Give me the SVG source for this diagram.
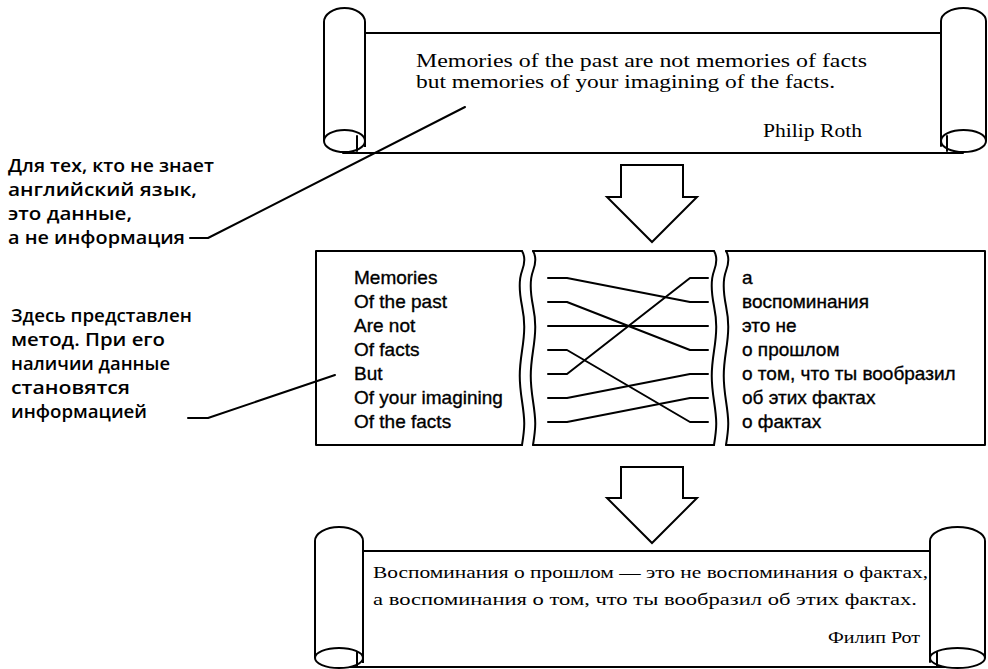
<svg xmlns="http://www.w3.org/2000/svg" width="988" height="669" viewBox="0 0 988 669">
<style>
.ln{fill:none;stroke:#000;stroke-width:2;stroke-linecap:round;stroke-linejoin:round}
.wf{fill:#fff;stroke:#000;stroke-width:2}
.deco{font-family:"Liberation Serif","DejaVu Serif",serif;fill:#000}
.sans{font-family:"Liberation Sans",Arial,sans-serif;font-size:19px;fill:#000;stroke:#000;stroke-width:0.35}
.note{font-family:"Open Sans","Noto Sans",sans-serif;font-size:18.5px;font-weight:600;fill:#000}
</style>
<rect width="988" height="669" fill="#fff"/>

<g id="scroll-top">
  <path class="ln" d="M365,33 H941"/>
  <path class="ln" d="M343,153 H963"/>
  <path class="wf" d="M324,141 V22 A20.5,14 0 0 1 365,22 V147"/>
  <ellipse class="wf" cx="344.5" cy="141" rx="20.5" ry="11"/>
  <path class="ln" d="M357,136 V151 M365,135 V146"/>
  <path class="wf" d="M941,141 V21 A22.5,13 0 0 1 986,21 V141"/>
  <ellipse class="wf" cx="963.5" cy="141" rx="22.5" ry="11"/>
  <path class="ln" d="M947,136 V151 M941,134 V146"/>
  <text class="deco" x="416" y="67" font-size="19" textLength="451" lengthAdjust="spacingAndGlyphs">Memories of the past are not memories of facts</text>
  <text class="deco" x="416" y="88" font-size="19" textLength="419" lengthAdjust="spacingAndGlyphs">but memories of your imagining of the facts.</text>
  <text class="deco" x="763" y="137" font-size="19" textLength="99" lengthAdjust="spacingAndGlyphs">Philip Roth</text>
</g>

<g id="arrow-top">
  <polygon class="wf" points="621,165 683,165 683,197 697,197 652,242 607,197 621,197"/>
</g>

<g id="note-1">
  <text class="note" x="8" y="172" textLength="206" lengthAdjust="spacingAndGlyphs">Для тех, кто не знает</text>
  <text class="note" x="8" y="196" textLength="189" lengthAdjust="spacingAndGlyphs">английский язык,</text>
  <text class="note" x="8" y="220" textLength="124" lengthAdjust="spacingAndGlyphs">это данные,</text>
  <text class="note" x="8" y="244" textLength="177" lengthAdjust="spacingAndGlyphs">а не информация</text>
</g>

<g id="note-2">
  <text class="note" x="11" y="322" textLength="181" lengthAdjust="spacingAndGlyphs">Здесь представлен</text>
  <text class="note" x="11" y="346" textLength="154" lengthAdjust="spacingAndGlyphs">метод. При его</text>
  <text class="note" x="11" y="370" textLength="159" lengthAdjust="spacingAndGlyphs">наличии данные</text>
  <text class="note" x="11" y="394" textLength="119" lengthAdjust="spacingAndGlyphs">становятся</text>
  <text class="note" x="11" y="418" textLength="136" lengthAdjust="spacingAndGlyphs">информацией</text>
</g>

<g id="panel-english">
  <path class="ln" d="M522,251 H316 V445 H522"/>
  <path class="ln" d="M522,251 c3,5 3,12 0,20 s-3,20 0,35 s3,25 0,45 s-3,30 0,50 s3,25 0,44"/>
  <text class="sans" x="354" y="284">Memories</text>
  <text class="sans" x="354" y="308">Of the past</text>
  <text class="sans" x="354" y="332">Are not</text>
  <text class="sans" x="354" y="356">Of facts</text>
  <text class="sans" x="354" y="380">But</text>
  <text class="sans" x="354" y="404">Of your imagining</text>
  <text class="sans" x="354" y="428">Of the facts</text>
</g>

<g id="panel-method">
  <path class="ln" d="M533,251 H714 M533,445 H714"/>
  <path class="ln" d="M533,251 c3,5 3,12 0,20 s-3,20 0,35 s3,25 0,45 s-3,30 0,50 s3,25 0,44"/>
  <path class="ln" d="M714,251 c3,5 3,12 0,20 s-3,20 0,35 s3,25 0,45 s-3,30 0,50 s3,25 0,44"/>
</g>

<g id="panel-russian">
  <path class="ln" d="M726,251 H985 V445 H726"/>
  <path class="ln" d="M726,251 c3,5 3,12 0,20 s-3,20 0,35 s3,25 0,45 s-3,30 0,50 s3,25 0,44"/>
  <text class="sans" x="742" y="284">а</text>
  <text class="sans" x="742" y="308">воспоминания</text>
  <text class="sans" x="742" y="332">это не</text>
  <text class="sans" x="742" y="356">о прошлом</text>
  <text class="sans" x="742" y="380">о том, что ты вообразил</text>
  <text class="sans" x="742" y="404">об этих фактах</text>
  <text class="sans" x="742" y="428">о фактах</text>
</g>

<g id="connectors">
  <path class="ln" d="M548,278 H567 L690,302 H708"/>
  <path class="ln" d="M548,302 H567 L690,350 H708"/>
  <path class="ln" d="M548,326 H708"/>
  <path class="ln" d="M548,350 H567 L690,422 H708"/>
  <path class="ln" d="M548,374 H567 L690,278 H708"/>
  <path class="ln" d="M548,398 H567 L690,374 H708"/>
  <path class="ln" d="M548,422 H567 L690,398 H708"/>
  <path class="ln" stroke-width="2.5" d="M190,238 H208 L465,107"/>
  <path class="ln" stroke-width="2.5" d="M188,418 H208 L335,375"/>
</g>

<g id="arrow-bottom">
  <polygon class="wf" points="621,467 683,467 683,498 697,498 652,543 607,498 621,498"/>
</g>

<g id="scroll-bottom">
  <path class="ln" d="M363,551 H930"/>
  <path class="ln" d="M339,667 H957"/>
  <path class="wf" d="M315,658 V541 A24,14 0 0 1 363,541 V663"/>
  <ellipse class="wf" cx="339" cy="658" rx="24" ry="10"/>
  <path class="ln" d="M357,652 V667 M363,650 V662"/>
  <path class="wf" d="M930,658 V541 A27.5,14 0 0 1 985,541 V658"/>
  <ellipse class="wf" cx="957.5" cy="658" rx="27.5" ry="10"/>
  <path class="ln" d="M937,652 V667 M930,650 V662"/>
  <text class="deco" x="373" y="578" font-size="17" textLength="555" lengthAdjust="spacingAndGlyphs">Воспоминания о прошлом — это не воспоминания о фактах,</text>
  <text class="deco" x="373" y="605" font-size="17" textLength="544" lengthAdjust="spacingAndGlyphs">а воспоминания о том, что ты вообразил об этих фактах.</text>
  <text class="deco" x="828" y="643" font-size="17" textLength="92" lengthAdjust="spacingAndGlyphs">Филип Рот</text>
</g>
</svg>
